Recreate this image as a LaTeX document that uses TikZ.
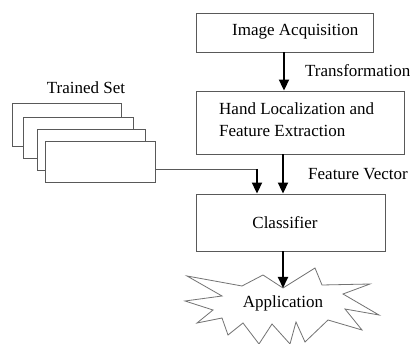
\documentclass[tikz,border=0pt]{standalone}
\usepackage{fontspec}
\setmainfont{Liberation Serif}
\usetikzlibrary{arrows.meta}
\begin{document}
\begin{tikzpicture}[x=1pt,y=-1pt,
  box/.style={draw=black!65, line width=0.9pt, fill=white, inner sep=0pt},
  lbl/.style={font=\fontsize{17}{22}\selectfont, inner sep=0pt, text=black},
  arr/.style={line width=2pt, -{Triangle[width=10pt,length=11pt]}},
  thinline/.style={draw=black!65, line width=0.9pt},
  burst/.style={draw=black!55, line width=0.8pt, fill=white, line join=miter},
]
\useasboundingbox (0,0) rectangle (413,344);

% main boxes
\node[box, minimum width=177pt, minimum height=39pt] (acq) at (284.5,32.5) {};
\node[box, minimum width=208pt, minimum height=63pt] (loc) at (300,122.5) {};
\node[box, minimum width=189pt, minimum height=57pt] (cls) at (290.5,222.5) {};

% trained set stack
\node[box, minimum width=109pt, minimum height=43pt] (ts1) at (66.5,124.5) {};
\node[box, minimum width=110pt, minimum height=41pt] (ts2) at (78,137.5) {};
\node[box, minimum width=108pt, minimum height=41pt] (ts3) at (91,149.5) {};
\node[box, minimum width=110pt, minimum height=41pt] (ts4) at (100,161.5) {};

% application burst
\draw[burst] (187,276) -- (242,286) -- (263,275) -- (283,288) -- (315,268)
  -- (322,285) -- (370,284) -- (343,294) -- (379,315) -- (345,309)
  -- (362,330) -- (328,320) -- (305,342) -- (296,322) -- (290,344)
  -- (272,324) -- (259,344) -- (243,323) -- (228,335) -- (222,318)
  -- (197,323) -- (213,310) -- (185,301) -- (222,296) -- cycle;
\coordinate (apptop) at (283,288);

% labels
\node[lbl, anchor=west] (acqT) at (232,32) {Image Acquisition};
\node[lbl, anchor=west, align=left] (locT) at (219,120) {Hand Localization and\\Feature Extraction};
\node[lbl] (clsT) at (285,223) {Classifier};
\node[lbl, anchor=west] (trT) at (305,71) {Transformation};
\node[lbl, anchor=west] (fvT) at (308,174) {Feature Vector};
\node[lbl] (tsT) at (86,88) {Trained Set};
\node[lbl] (appT) at (283,303) {Application};

% connectors
\coordinate (corner) at (257,169);
\draw[arr] ([xshift=-0.5pt]acq.south) -- ([xshift=-16pt]loc.north);
\draw[arr] ([xshift=-17pt]loc.south) -- ([xshift=-7.5pt]cls.north);
\draw[thinline] ([yshift=-7.5pt]ts4.east) -- ([xshift=1pt]corner);
\draw[arr] (corner) -- ([xshift=-33.5pt]cls.north);
\draw[arr] ([xshift=-7.5pt]cls.south) -- (apptop);
\end{tikzpicture}
\end{document}
